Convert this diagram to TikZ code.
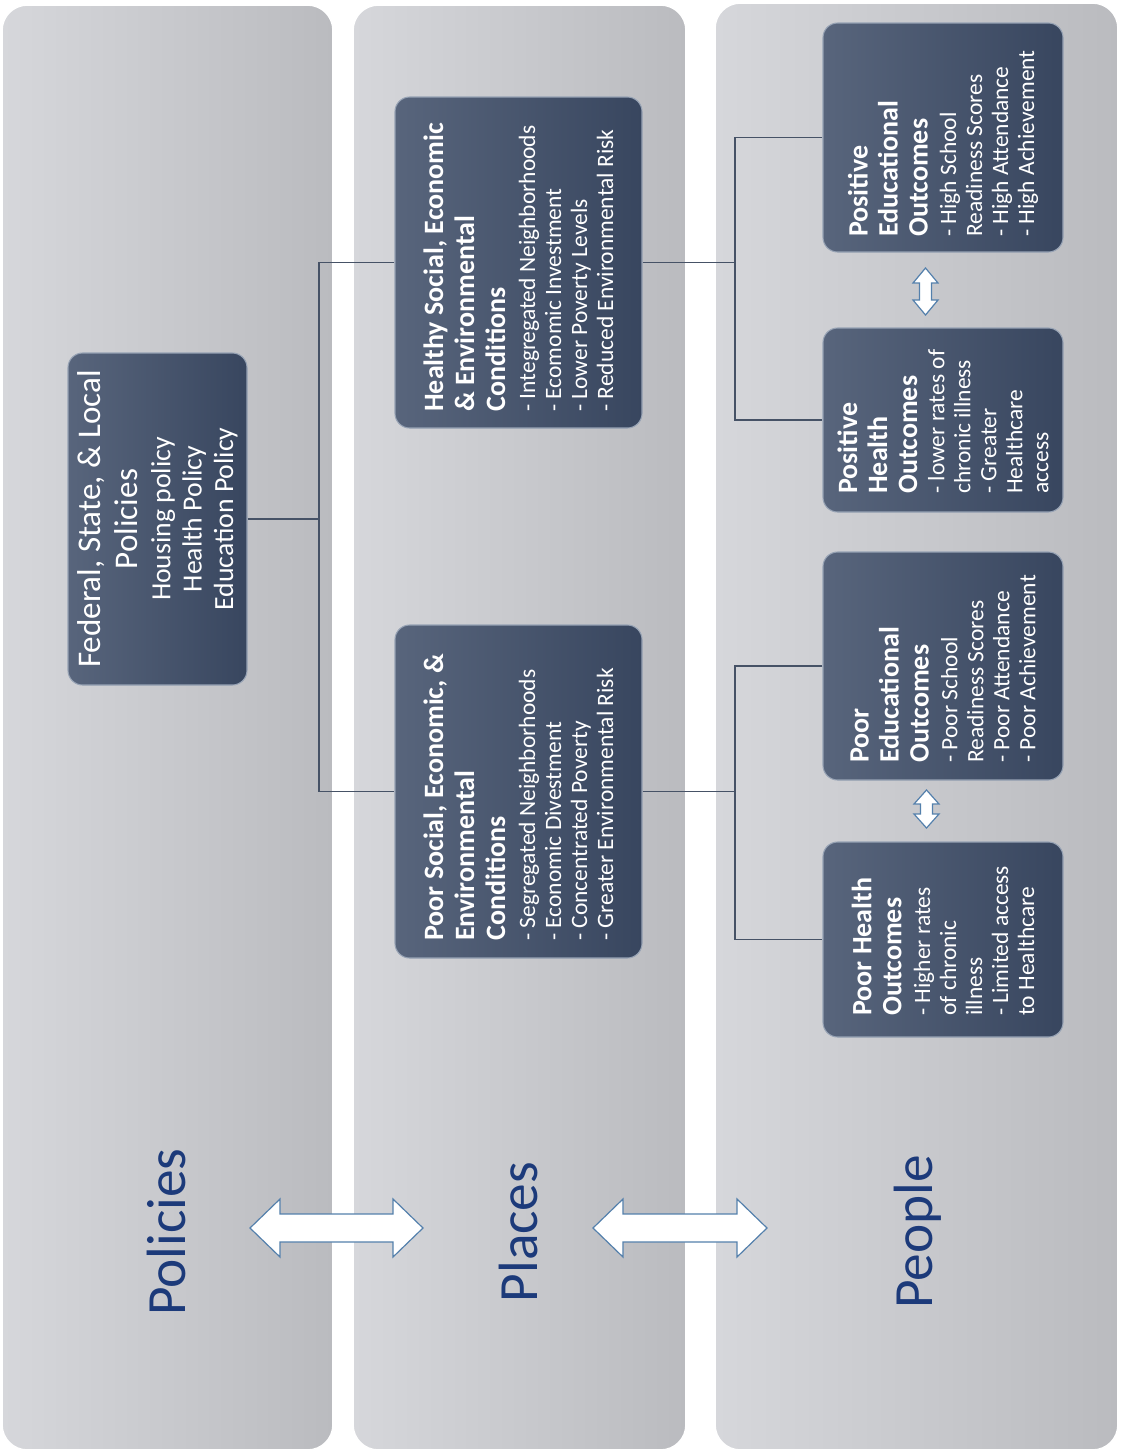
\documentclass[tikz,border=0pt]{standalone}
\usepackage{fontspec}
\setmainfont{Carlito}
\usetikzlibrary{calc}
\definecolor{lanel}{RGB}{214,215,219}
\definecolor{laner}{RGB}{186,187,191}
\definecolor{boxl}{RGB}{88,101,124}
\definecolor{boxr}{RGB}{56,70,95}
\definecolor{boxedge}{RGB}{150,162,180}
\definecolor{conncol}{RGB}{70,82,102}
\definecolor{arrowcol}{RGB}{84,128,172}
\definecolor{labelcol}{RGB}{28,58,122}
\newcommand{\TT}[1]{{\fontsize{21}{24}\selectfont\bfseries #1}}
\newcommand{\PT}[1]{{\fontsize{24.8}{28}\selectfont #1}}
\tikzset{
  lanebox/.style={rounded corners=19pt, left color=lanel, right color=laner, draw=white, line width=1.2pt},
  darkbox/.style={rectangle, rounded corners=11pt, left color=boxl, right color=boxr, draw=boxedge, line width=0.8pt, inner sep=0pt},
  boxtext/.style={rotate=90, anchor=west, align=left, text=white, inner sep=0pt, font=\fontsize{17.6}{19.5}\selectfont},
  poltext/.style={rotate=90, anchor=center, align=center, text=white, inner sep=0pt, font=\fontsize{20.8}{23.5}\selectfont},
  conn/.style={draw=conncol, line width=1.2pt},
  dblarrow/.style={draw=arrowcol, fill=white, line width=0.9pt, line join=miter},
  lanelabel/.style={rotate=90, anchor=base, text=labelcol, font=\fontsize{41.5}{48}\selectfont, inner sep=0pt}
}
\begin{document}
\begin{tikzpicture}[x=0.75pt,y=-0.75pt]
\useasboundingbox (0,0) rectangle (1121,1454);
\fill[white] (0,0) rectangle (1121,1454);
% lanes
\path[lanebox] (2,5) rectangle (333,1450);
\path[lanebox] (353,5) rectangle (686,1450);
\path[lanebox] (715,3) rectangle (1118,1450);
% boxes
\node[darkbox, minimum width=179*0.75pt, minimum height=332*0.75pt] (pol) at (157.5,519) {};
\node[darkbox, minimum width=247*0.75pt, minimum height=331*0.75pt] (healthy) at (518.5,262.5) {};
\node[darkbox, minimum width=247*0.75pt, minimum height=333*0.75pt] (poor) at (518.5,791.5) {};
\node[darkbox, minimum width=240*0.75pt, minimum height=229*0.75pt] (posedu) at (943,137.5) {};
\node[darkbox, minimum width=240*0.75pt, minimum height=184*0.75pt] (poshealth) at (943,420) {};
\node[darkbox, minimum width=240*0.75pt, minimum height=228*0.75pt] (pooredu) at (943,666) {};
\node[darkbox, minimum width=240*0.75pt, minimum height=195*0.75pt] (poorhealth) at (943,939.5) {};
% texts
\node[poltext] (tpol) at (157.5,519) {\PT{Federal, State, \& Local}\\[4.25pt]\PT{Policies}\\[1.25pt]Housing policy\\Health Policy\\Education Policy};
\node[boxtext] (thealthy) at (518.5,412) {\TT{Healthy Social, Economic}\\[3.75pt]\TT{\& Environmental}\\[3.75pt]\TT{Conditions}\\[3pt]- Integregated Neighborhoods\\- Ecomomic Investment\\- Lower Poverty Levels\\- Reduced Environmental Risk};
\node[boxtext] (tpoor) at (518.5,941) {\TT{Poor Social, Economic, \&}\\[3.75pt]\TT{Environmental}\\[3.75pt]\TT{Conditions}\\[3pt]- Segregated Neighborhoods\\- Economic Divestment\\- Concentrated Poverty\\- Greater Environmental Risk};
\node[boxtext] (tposedu) at (943,237) {\TT{Positive}\\[3pt]\TT{Educational}\\[3pt]\TT{Outcomes}\\[2pt]- High School\\Readiness Scores\\- High Attendance\\- High Achievement};
\node[boxtext] (tposhealth) at (943,494) {\TT{Positive}\\[3pt]\TT{Health}\\[3pt]\TT{Outcomes}\\[1pt]- lower rates of\\chronic illness\\- Greater\\Healthcare\\access};
\node[boxtext] (tpooredu) at (943,763) {\TT{Poor}\\[3pt]\TT{Educational}\\[3pt]\TT{Outcomes}\\[2pt]- Poor School\\Readiness Scores\\- Poor Attendance\\- Poor Achievement};
\node[boxtext] (tpoorhealth) at (943,1016) {\TT{Poor Health}\\[3pt]\TT{Outcomes}\\[2pt]- Higher rates\\of chronic\\illness\\- Limited access\\to Healthcare};
% connectors
\coordinate (j1) at (319,519);
\coordinate (j2) at (735,262.5);
\coordinate (j3) at (735,791.5);
\draw[conn] (pol.east) -- (j1);
\draw[conn] (healthy.west) -| (j1) |- (poor.west);
\draw[conn] (healthy.east) -- (j2);
\draw[conn] (posedu.west) -| (j2) |- (poshealth.west);
\draw[conn] (poor.east) -- (j3);
\draw[conn] (pooredu.west) -| (j3) |- (poorhealth.west);
% small vertical double arrows
\draw[dblarrow] (925.5,268) -- (938,283) -- (931.5,283) -- (931.5,300) -- (938,300) -- (925.5,315) -- (913,300) -- (919.5,300) -- (919.5,283) -- (913,283) -- cycle;
\draw[dblarrow] (926.5,790) -- (939,804) -- (932.5,804) -- (932.5,814) -- (939,814) -- (926.5,828) -- (914,814) -- (920.5,814) -- (920.5,804) -- (914,804) -- cycle;
% big horizontal double arrows
\draw[dblarrow] (250,1228) -- (280,1199) -- (280,1214) -- (393,1214) -- (393,1199) -- (423,1228) -- (393,1257) -- (393,1242) -- (280,1242) -- (280,1257) -- cycle;
\draw[dblarrow] (593,1228) -- (623,1199) -- (623,1214) -- (737,1214) -- (737,1199) -- (767,1228) -- (737,1257) -- (737,1242) -- (623,1242) -- (623,1257) -- cycle;
% lane labels
\node[lanelabel] (lpolicies) at (185,1232) {Policies};
\node[lanelabel] (lplaces) at (537,1232) {Places};
\node[lanelabel] (lpeople) at (932,1232) {People};
\end{tikzpicture}
\end{document}
